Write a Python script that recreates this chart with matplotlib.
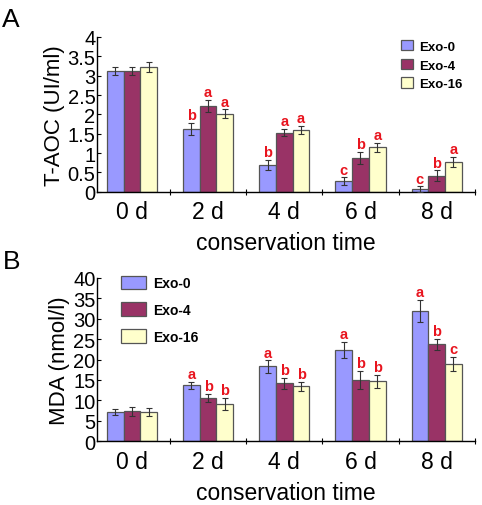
import numpy as np
import matplotlib
matplotlib.use("Agg")
import matplotlib.pyplot as plt
from matplotlib.ticker import FuncFormatter

plt.rcParams['font.family'] = ['Liberation Sans', 'DejaVu Sans']

days = ['0 d', '2 d', '4 d', '6 d', '8 d']
groups = ['Exo-0', 'Exo-4', 'Exo-16']
colors = ['#9999ff', '#993366', '#ffffcc']

# T-AOC (UI/ml)
taoc_exo0 = [3.12, 1.62, 0.70, 0.27, 0.07]
taoc_exo4 = [3.12, 2.22, 1.53, 0.87, 0.42]
taoc_exo16 = [3.22, 2.02, 1.60, 1.15, 0.77]
taoc_err0 = [0.10, 0.15, 0.13, 0.10, 0.07]
taoc_err4 = [0.10, 0.15, 0.10, 0.16, 0.13]
taoc_err16 = [0.12, 0.11, 0.10, 0.12, 0.14]
taoc_sig0 = ['', 'b', 'b', 'c', 'c']
taoc_sig4 = ['', 'a', 'a', 'b', 'b']
taoc_sig16 = ['', 'a', 'a', 'a', 'a']

# MDA (nmol/l)
mda_exo0 = [7.1, 13.7, 18.3, 22.3, 31.9]
mda_exo4 = [7.3, 10.5, 14.2, 15.1, 23.7]
mda_exo16 = [7.2, 9.2, 13.4, 14.7, 18.9]
mda_err0 = [0.7, 0.8, 1.5, 2.0, 2.7]
mda_err4 = [1.0, 1.0, 1.3, 2.2, 1.3]
mda_err16 = [0.9, 1.5, 1.2, 1.6, 1.7]
mda_sig0 = ['', 'a', 'a', 'a', 'a']
mda_sig4 = ['', 'b', 'b', 'b', 'b']
mda_sig16 = ['', 'b', 'b', 'b', 'c']


def draw_panel(ax, values, errors, sigs, ymax, ystep, ylabel, off):
    x = np.arange(len(days))
    w = 0.22
    for k, (vals, errs, sg) in enumerate(zip(values, errors, sigs)):
        pos = x + (k - 1) * w
        ax.bar(pos, vals, w, color=colors[k], edgecolor='#555555',
               linewidth=0.9, label=groups[k], zorder=2)
        ax.errorbar(pos, vals, yerr=errs, fmt='none', ecolor='#333333',
                    elinewidth=0.8, capsize=2.2, capthick=0.8, zorder=3)
        for p, v, e, s in zip(pos, vals, errs, sg):
            if s:
                ax.text(p, v + e + off, s, color='#e8141e', fontsize=10.5,
                        fontweight='bold', ha='center', va='bottom')
    ax.set_xlim(-0.46, 4.5)
    ax.set_ylim(0, ymax)
    ax.set_yticks(np.arange(0, ymax + ystep / 2, ystep))
    ax.yaxis.set_major_formatter(FuncFormatter(lambda v, _: '%g' % v))
    ax.set_xticks(x)
    ax.set_xticklabels(days, fontsize=16.5)
    ax.set_xticks(np.arange(0.5, 4.6, 1.0), minor=True)
    ax.tick_params(axis='x', which='major', length=0, pad=6)
    ax.tick_params(axis='x', which='minor', length=4, direction='inout', width=0.8)
    ax.tick_params(axis='y', labelsize=14.5, length=3, direction='in', width=0.8, pad=1)
    for s in ['top', 'right']:
        ax.spines[s].set_visible(False)
    for s in ['left', 'bottom']:
        ax.spines[s].set_linewidth(1.0)
    ax.set_ylabel(ylabel, fontsize=16, labelpad=2)
    ax.set_xlabel('conservation time', fontsize=16.5, labelpad=6)


fig = plt.figure(figsize=(4.82, 5.06), dpi=100)
ax1 = fig.add_axes([0.201, 0.619, 0.784, 0.306])
ax2 = fig.add_axes([0.201, 0.126, 0.784, 0.323])

draw_panel(ax1, [taoc_exo0, taoc_exo4, taoc_exo16],
           [taoc_err0, taoc_err4, taoc_err16],
           [taoc_sig0, taoc_sig4, taoc_sig16], 4, 0.5, 'T-AOC (UI/ml)', 0.02)
draw_panel(ax2, [mda_exo0, mda_exo4, mda_exo16],
           [mda_err0, mda_err4, mda_err16],
           [mda_sig0, mda_sig4, mda_sig16], 40, 5, 'MDA (nmol/l)', 0.2)

ax1.legend(loc='upper right', bbox_to_anchor=(1.0, 1.06), frameon=False,
           prop={'weight': 'bold', 'size': 9.5}, handlelength=0.9,
           handleheight=0.9, handletextpad=0.5, labelspacing=0.45)
ax2.legend(loc='upper left', bbox_to_anchor=(0.03, 1.09), frameon=False,
           prop={'weight': 'bold', 'size': 10}, handlelength=1.8,
           handleheight=1.1, handletextpad=0.5, labelspacing=0.9)

fig.text(0.005, 0.985, 'A', fontsize=19, va='top', ha='left')
fig.text(0.005, 0.505, 'B', fontsize=19, va='top', ha='left')

fig.savefig('out.png', dpi=100)
